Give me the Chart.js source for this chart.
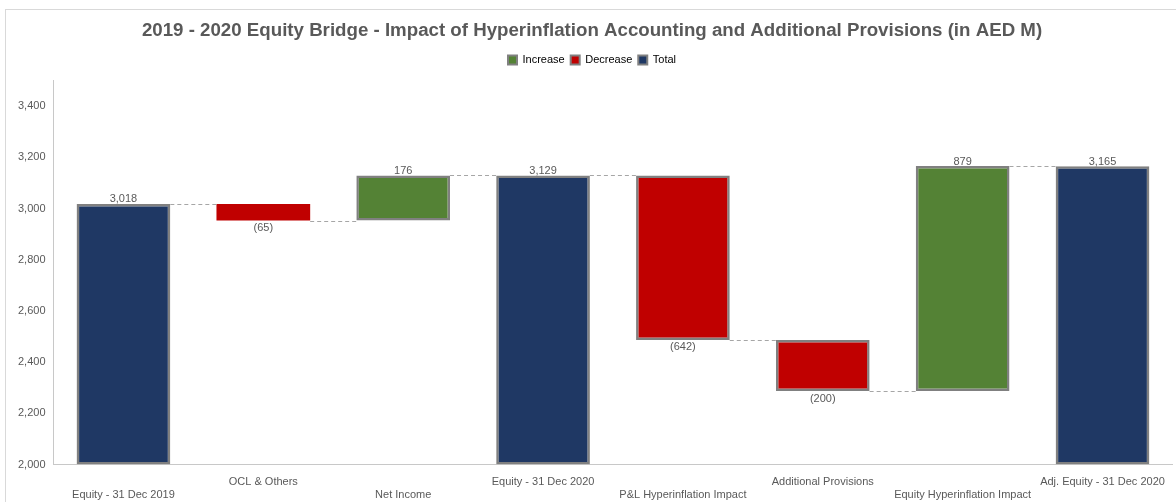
<!DOCTYPE html>
<html>
<head>
<meta charset="utf-8">
<script src="https://cdn.jsdelivr.net/npm/chart.js@4.4.1/dist/chart.umd.min.js"></script>
<style>
  body { margin: 0; background: #fff; }
  #wrap { position: relative; width: 1176px; height: 502px; overflow: hidden; }
  #frame { position: absolute; left: 5px; top: 9px; width: 1300px; height: 600px;
           border-left: 1px solid #d9d9d9; border-top: 1px solid #d9d9d9; }
  canvas { position: absolute; left: 0; top: 0; }
</style>
</head>
<body>
<div id="wrap">
  <div id="frame"></div>
  <canvas id="bridgeChart" width="1176" height="505"></canvas>
</div>
<script>
const categories = ['Equity - 31 Dec 2019', 'OCL & Others', 'Net Income', 'Equity - 31 Dec 2020',
  'P&L Hyperinflation Impact', 'Additional Provisions', 'Equity Hyperinflation Impact', 'Adj. Equity - 31 Dec 2020'];
const values = [3018, -65, 176, 3129, -642, -200, 879, 3165];
const kinds = ['total', 'decrease', 'increase', 'total', 'decrease', 'decrease', 'increase', 'total'];
const yTicks = [2000, 2200, 2400, 2600, 2800, 3000, 3200, 3400];

const colors = { increase: '#548235', decrease: '#C00000', total: '#1F3864' };
const textColor = '#595959';
const font = '"Liberation Sans", Arial, sans-serif';

// floating bars: [start, end]
let running = 0;
const floats = values.map((v, i) => {
  if (kinds[i] === 'total') { running = v; return [2000, v]; }
  const start = running;
  running += v;
  return [start, running];
});

// stagger the x labels over two rows
const xLabels = categories.map((c, i) => i % 2 === 0 ? ['', c] : [c, '']);

const fmt = v => Math.abs(v).toLocaleString('en-US');

// a bit more room below the legend
const legendGap = {
  id: 'legendGap',
  beforeInit(chart) {
    const fit = chart.legend.fit;
    chart.legend.fit = function () {
      fit.bind(chart.legend)();
      this.height += 5;
    };
  }
};

const bridgeExtras = {
  id: 'bridgeExtras',
  afterDatasetsDraw(chart) {
    const c = chart.ctx;
    const y = chart.scales.y;
    const meta = chart.getDatasetMeta(0);
    // dashed connectors
    c.save();
    c.strokeStyle = '#a6a6a6';
    c.lineWidth = 1;
    c.setLineDash([4, 3]);
    for (let i = 0; i < floats.length - 1; i++) {
      const a = meta.data[i], b = meta.data[i + 1];
      const py = Math.round(y.getPixelForValue(floats[i][1])) + 0.5;
      c.beginPath();
      c.moveTo(a.x + a.width / 2, py);
      c.lineTo(b.x - b.width / 2, py);
      c.stroke();
    }
    c.restore();
    // value labels
    c.save();
    c.font = '11px ' + font;
    c.fillStyle = textColor;
    c.textAlign = 'center';
    meta.data.forEach((bar, i) => {
      const v = values[i];
      if (kinds[i] === 'decrease') {
        c.textBaseline = 'top';
        c.fillText('(' + fmt(v) + ')', bar.x, y.getPixelForValue(floats[i][1]) + 2);
      } else {
        c.textBaseline = 'bottom';
        c.fillText(fmt(v), bar.x, y.getPixelForValue(floats[i][1]) + 1);
      }
    });
    c.restore();
  }
};

new Chart(document.getElementById('bridgeChart'), {
  type: 'bar',
  data: {
    labels: xLabels,
    datasets: [{
      label: 'Bridge',
      data: floats,
      backgroundColor: kinds.map(k => colors[k]),
      borderColor: '#808080',
      borderWidth: kinds.map((k, i) => i === 1 ? 0 : 2.5),
      borderSkipped: false,
      categoryPercentage: 1,
      barPercentage: 0.67
    }]
  },
  options: {
    responsive: false,
    animation: false,
    layout: { padding: { left: 10, right: 2, top: 4, bottom: -8 } },
    plugins: {
      title: {
        display: true,
        text: '2019 - 2020 Equity Bridge - Impact of Hyperinflation Accounting and Additional Provisions (in AED M)',
        color: textColor,
        font: { family: font, size: 18.7, weight: 'bold' },
        padding: { top: 16, bottom: 6 }
      },
      legend: {
        display: true,
        onClick: null,
        labels: {
          color: textColor,
          font: { family: font, size: 11 },
          boxWidth: 9,
          boxHeight: 9,
          padding: 6,
          generateLabels: () => ['increase', 'decrease', 'total'].map(k => ({
            text: k.charAt(0).toUpperCase() + k.slice(1),
            fillStyle: colors[k],
            strokeStyle: '#808080',
            lineWidth: 2,
            hidden: false
          }))
        }
      },
      tooltip: { enabled: false }
    },
    scales: {
      x: {
        grid: { display: false, drawTicks: false },
        border: { display: true, color: '#c8c8c8', dash: [2, 2] },
        ticks: {
          color: textColor,
          font: { family: font, size: 11 },
          maxRotation: 0,
          autoSkip: false,
          padding: 11
        }
      },
      y: {
        min: 2000,
        max: 3500,
        grid: { display: false, drawTicks: false },
        border: { display: true, color: '#c8c8c8', dash: [2, 2] },
        afterBuildTicks: axis => { axis.ticks = yTicks.map(v => ({ value: v })); },
        ticks: {
          color: textColor,
          font: { family: font, size: 11 },
          padding: 8,
          callback: v => v.toLocaleString('en-US')
        }
      }
    }
  },
  plugins: [legendGap, bridgeExtras]
});
</script>
</body>
</html>
